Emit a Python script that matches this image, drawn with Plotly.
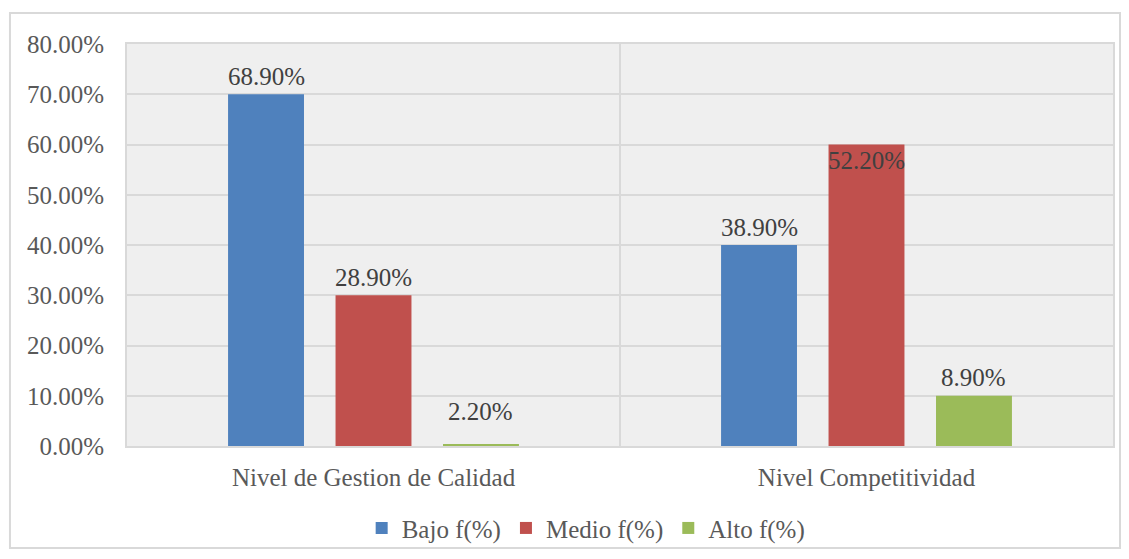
import plotly.graph_objects as go

# datos
categorias = ["Nivel de Gestion de Calidad", "Nivel Competitividad"]
series = ["Bajo f(%)", "Medio f(%)", "Alto f(%)"]
# altura de barras tal como aparece en el grafico
bajo = [70.0, 40.0]
medio = [30.0, 60.0]
alto = [0.3, 10.0]
# etiquetas de datos
etq_bajo = [68.9, 38.9]
etq_medio = [28.9, 52.2]
etq_alto = [2.2, 8.9]

colores = ["#4F81BD", "#C0504D", "#9BBB59"]
valores = [bajo, medio, alto]
etiquetas = [etq_bajo, etq_medio, etq_alto]

FUENTE = "Liberation Serif"
TAM = 25
ancho = 0.154
paso = 0.218

fig = go.Figure()
anots = []
for i, nombre in enumerate(series):
    xs = [k + (i - 1) * paso for k in range(len(categorias))]
    fig.add_trace(go.Bar(
        x=xs, y=valores[i], name=nombre, width=ancho,
        marker=dict(color=colores[i], line=dict(width=0)),
    ))
    for x, v in zip(xs, etiquetas[i]):
        anots.append(dict(
            x=x, y=v, xref="x", yref="y", text=f"{v:.2f}%",
            showarrow=False, yanchor="bottom", yshift=8,
            font=dict(family=FUENTE, size=TAM, color="#404040"),
        ))

fig.update_layout(
    width=1113, height=543,
    margin=dict(l=119, r=8, t=36, b=105, autoexpand=False),
    paper_bgcolor="white",
    plot_bgcolor="#efefef",
    barmode="overlay",
    font=dict(family=FUENTE, size=TAM, color="#595959"),
    annotations=anots,
    showlegend=True,
    legend=dict(orientation="h", x=0.238, xanchor="left", y=0.042, yanchor="middle",
                yref="container", bgcolor="rgba(0,0,0,0)",
                font=dict(size=TAM, color="#595959"), itemwidth=30, tracegroupgap=0),
    xaxis=dict(
        range=[-0.5, 1.5], tickvals=[0, 1], ticktext=categorias,
        showgrid=False, zeroline=False, ticks="",
        showline=True, linecolor="#d9d9d9", linewidth=2, mirror=True,
        ticklabelstandoff=8,
    ),
    yaxis=dict(
        range=[0, 80], dtick=10, tickformat=".2f", ticksuffix="%",
        showgrid=True, gridcolor="#d9d9d9", gridwidth=2, zeroline=False,
        showline=True, linecolor="#d9d9d9", linewidth=2, mirror=True,
        ticklabelstandoff=16,
    ),
    shapes=[
        # separador entre categorias
        dict(type="line", xref="x", yref="y domain", x0=0.5, x1=0.5, y0=0, y1=1,
             line=dict(color="#d9d9d9", width=2), layer="below"),
        # borde exterior del grafico
        dict(type="rect", xref="paper", yref="paper", x0=-0.1187, x1=1.0071, y0=-0.254, y1=1.077,
             line=dict(color="#d9d9d9", width=2)),
    ],
)

fig.write_html("out.html")
